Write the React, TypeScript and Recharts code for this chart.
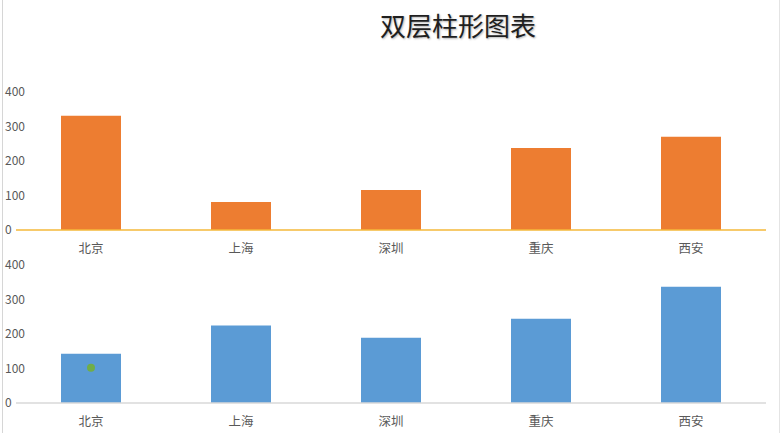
import { Bar, BarChart, XAxis, YAxis, ReferenceDot } from "recharts"

const cities = ["北京", "上海", "深圳", "重庆", "西安"]
const upperValues = [331, 81, 116, 238, 270]
const lowerValues = [143, 225, 189, 244, 337]
const yTicks = [0, 100, 200, 300, 400]
const markerCity = "北京"
const markerValue = 102

const FONT = '"Noto Sans CJK SC", "Noto Sans", sans-serif'

const LeftTick = ({ y, payload }: any) => (
  <text x={5} y={y} dy={4} textAnchor="start" fill="#595959" fontSize={12} fontFamily={FONT}>
    {payload.value}
  </text>
)

const upperData = cities.map((city, i) => ({ city, value: upperValues[i] }))
const lowerData = cities.map((city, i) => ({ city, value: lowerValues[i] }))

function Layer({ data, color, axisColor, children }: any) {
  return (
    <BarChart
      width={784}
      height={260}
      data={data}
      margin={{ top: 92, right: 18, bottom: 0, left: 0 }}
      barCategoryGap="30%"
    >
      <XAxis
        dataKey="city"
        height={30}
        tickLine={false}
        tickMargin={8}
        axisLine={{ stroke: axisColor, strokeWidth: 1.5 }}
        tick={{ fill: "#595959", fontSize: 12.5, fontFamily: FONT }}
      />
      <YAxis
        width={16}
        domain={[0, 400]}
        ticks={yTicks}
        axisLine={false}
        tickLine={false}
        tick={<LeftTick />}
      />
      <Bar dataKey="value" fill={color} isAnimationActive={false} />
      {children}
    </BarChart>
  )
}

export default function App() {
  return (
    <div style={{ position: "fixed", left: 0, top: 0, width: 784, height: 433, background: "#fff", overflow: "hidden" }}>
      <div style={{ position: "absolute", left: 2, top: 0, width: 1, height: 433, background: "#d6d6d6" }} />
      <div style={{ position: "absolute", left: 779, top: 0, width: 1, height: 433, background: "#e4e4e4" }} />
      <div
        style={{
          position: "absolute",
          left: 358,
          top: 6,
          width: 200,
          textAlign: "center",
          fontFamily: FONT,
          fontSize: 26,
          color: "#1f1f1f",
          textShadow: "1px 1px 2px rgba(0,0,0,0.3)",
        }}
      >
        双层柱形图表
      </div>
      <div style={{ position: "absolute", left: 0, top: 0 }}>
        <Layer data={upperData} color="#ED7D31" axisColor="#F5B93A" />
      </div>
      <div style={{ position: "absolute", left: 0, top: 173 }}>
        <Layer data={lowerData} color="#5B9BD5" axisColor="#D9D9D9">
          <ReferenceDot x={markerCity} y={markerValue} r={4} fill="#70AD47" stroke="none" />
        </Layer>
      </div>
    </div>
  )
}
